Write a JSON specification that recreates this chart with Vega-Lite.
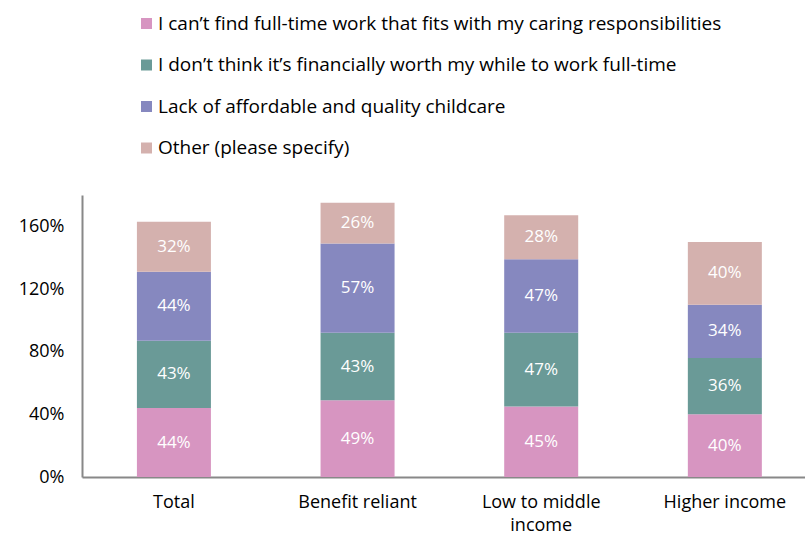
{
  "$schema": "https://vega.github.io/schema/vega-lite/v6.json",
  "autosize": {"type": "none"},
  "width": 723,
  "height": 282,
  "padding": {"left": 82, "top": 195, "right": 0, "bottom": 61},
  "background": "white",
  "config": {"font": "Open Sans", "view": {"stroke": null}},
  "data": {
    "values": [
      {"cat": "Total", "s": "I can’t find full-time work that fits with my caring responsibilities", "v": 0.44},
      {"cat": "Total", "s": "I don’t think it’s financially worth my while to work full-time", "v": 0.43},
      {"cat": "Total", "s": "Lack of affordable and quality childcare", "v": 0.44},
      {"cat": "Total", "s": "Other (please specify)", "v": 0.32},
      {"cat": "Benefit reliant", "s": "I can’t find full-time work that fits with my caring responsibilities", "v": 0.49},
      {"cat": "Benefit reliant", "s": "I don’t think it’s financially worth my while to work full-time", "v": 0.43},
      {"cat": "Benefit reliant", "s": "Lack of affordable and quality childcare", "v": 0.57},
      {"cat": "Benefit reliant", "s": "Other (please specify)", "v": 0.26},
      {"cat": "Low to middle income", "s": "I can’t find full-time work that fits with my caring responsibilities", "v": 0.45},
      {"cat": "Low to middle income", "s": "I don’t think it’s financially worth my while to work full-time", "v": 0.47},
      {"cat": "Low to middle income", "s": "Lack of affordable and quality childcare", "v": 0.47},
      {"cat": "Low to middle income", "s": "Other (please specify)", "v": 0.28},
      {"cat": "Higher income", "s": "I can’t find full-time work that fits with my caring responsibilities", "v": 0.40},
      {"cat": "Higher income", "s": "I don’t think it’s financially worth my while to work full-time", "v": 0.36},
      {"cat": "Higher income", "s": "Lack of affordable and quality childcare", "v": 0.34},
      {"cat": "Higher income", "s": "Other (please specify)", "v": 0.40}
    ]
  },
  "encoding": {
    "x": {
      "field": "cat",
      "type": "nominal",
      "sort": ["Total", "Benefit reliant", "Low to middle income", "Higher income"],
      "scale": {"paddingInner": 0.597, "paddingOuter": 0.267, "align": 0.56},
      "axis": {
        "title": null,
        "labelAngle": 0,
        "labelFontSize": 18,
        "labelColor": "#000000",
        "labelPadding": 16,
        "labelLineHeight": 23,
        "ticks": false,
        "domainColor": "#888888",
        "domainWidth": 2,
        "labelExpr": "datum.label == 'Low to middle income' ? ['Low to middle', 'income'] : datum.label"
      }
    }
  },
  "layer": [
    {
      "mark": {"type": "bar"},
      "encoding": {
        "y": {
          "field": "v",
          "type": "quantitative",
          "stack": "zero",
          "scale": {"domain": [0, 1.8], "nice": false},
          "axis": {
            "title": null,
            "format": ".0%",
            "values": [0, 0.4, 0.8, 1.2, 1.6],
            "grid": false,
            "ticks": false,
            "labelFontSize": 18,
            "labelColor": "#000000",
            "labelPadding": 18,
            "domainColor": "#888888",
            "domainWidth": 2
          }
        },
        "order": {"field": "s", "sort": "ascending"},
        "color": {
          "field": "s",
          "type": "nominal",
          "scale": {
            "domain": [
              "I can’t find full-time work that fits with my caring responsibilities",
              "I don’t think it’s financially worth my while to work full-time",
              "Lack of affordable and quality childcare",
              "Other (please specify)"
            ],
            "range": ["#D795C1", "#6A9A97", "#8688BF", "#D4B1AE"]
          },
          "legend": {
            "title": null,
            "orient": "none",
            "legendX": 55,
            "legendY": -181,
            "symbolType": "square",
            "symbolSize": 121,
            "symbolStrokeWidth": 0,
            "labelFontSize": 19,
            "labelColor": "#000000",
            "labelOffset": 2,
            "rowPadding": 21.5,
            "labelLimit": 800
          }
        }
      }
    },
    {
      "transform": [
        {"stack": "v", "groupby": ["cat"], "sort": [{"field": "s", "order": "ascending"}], "as": ["y0", "y1"]},
        {"fold": ["y0", "y1"], "as": ["k", "yy"]},
        {"aggregate": [{"op": "mean", "field": "yy", "as": "mid"}], "groupby": ["cat", "s", "v"]}
      ],
      "mark": {"type": "text", "color": "white", "fontSize": 17, "baseline": "middle", "align": "center"},
      "encoding": {
        "y": {"field": "mid", "type": "quantitative"},
        "text": {"field": "v", "type": "quantitative", "format": ".0%"}
      }
    }
  ]
}
